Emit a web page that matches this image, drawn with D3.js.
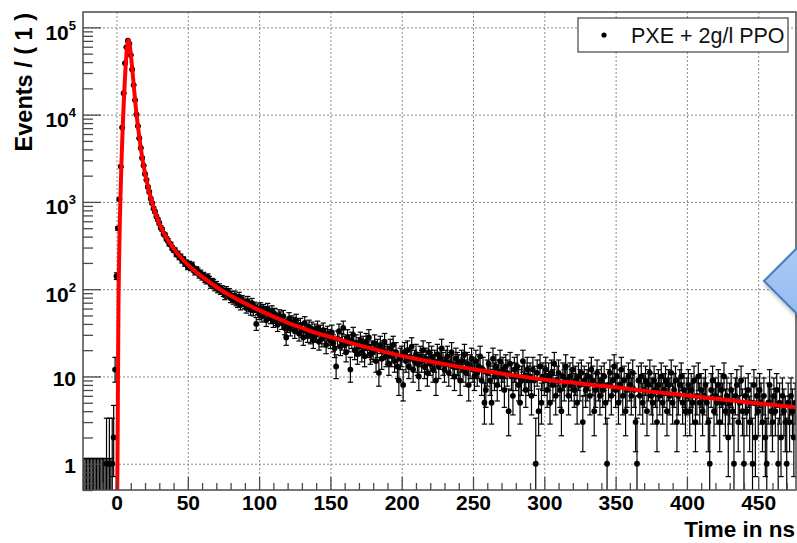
<!DOCTYPE html>
<html><head><meta charset="utf-8">
<script src="https://cdn.jsdelivr.net/npm/d3@7"></script>
<style>
body{margin:0;background:#fff;}
svg{display:block;font-family:"Liberation Sans",Arial,Helvetica,sans-serif;}
</style>
</head><body>
<svg id="c" width="797" height="543"></svg>
<script>
// ---------------- DATA ----------------
const firstBinCenter = -23;          // bins of width 1 ns
// t = -23 .. -1
const countsNeg = [0,0,0,0,0,0,0,0,0,0,0,0,0,0,0,0, 1,0,1,0,1,2,12];
// t = 0 .. 49
const countsPeak = [141,498,1071,2540,7120,17600,38900,59200,70300,65100,
  48200,32900,21800,14700,10050,7390,5380,4160,3190,2610,
  2090,1792,1486,1302,1093,968,843,771,679,628,
  571,509,482,431,418,379,362,331,326,297,
  283,279,251,256,233,236,214,219,197,201];
// t = 50 .. 99
const counts50 = [181,194,176,189,170,158,167,161,146,152,
  139,143,131,126,137,128,113,121,118,106,
  111,101,104,97,99,92,85,96,88,91,
  79,84,76,85,73,70,82,66,75,72,
  68,61,73,64,58,69,57,62,40,59];
// t = 100 .. 199
const counts100 = [52,61,49,58,55,44,60,51,47,56,
  43,52,45,39,50,47,41,49,36,28,
  38,46,35,42,40,33,44,37,31,39,
  34,28,41,33,30,37,29,35,26,33,
  30,36,25,32,27,34,29,23,31,28,
  26,32,24,21,13,27,33,22,25,36,
  23,19,28,24,12,26,30,20,24,18,
  22,26,19,23,17,25,21,28,18,20,
  19,24,15,21,11,23,16,20,25,17,
  18,14,21,17,23,15,19,13,9,16];
// t = 200 .. 299
const counts200 = [17,8,19,15,20,13,16,22,12,15,
  18,14,10,17,15,20,13,16,11,19,
  14,17,12,15,9,18,13,16,21,14,
  12,15,17,11,14,19,13,10,16,14,
  13,9,15,12,18,11,14,8,13,16,
  12,10,15,11,13,17,9,12,5,7,
  11,14,9,5,16,10,13,8,11,15,
  10,12,7,13,11,4,14,10,6,12,
  10,13,8,5,9,15,10,7,12,9,
  10,6,12,9,1,11,4,13,5,10];
// t = 300 .. 399
const counts300 = [9,12,7,10,5,11,8,14,6,9,
  11,7,4,10,8,13,9,6,10,8,
  12,7,9,5,10,8,11,3,9,7,
  8,10,6,12,9,4,7,11,8,6,
  9,7,10,5,1,8,11,6,9,13,
  7,10,5,8,12,6,9,4,7,10,
  8,6,11,7,3,1,9,6,10,5,
  7,9,4,8,11,6,5,9,7,3,
  8,6,10,5,7,9,4,8,6,11,
  5,7,9,3,6,8,10,5,7,4];
// t = 400 .. 476
const counts400 = [6,8,4,7,5,9,3,6,10,5,
  7,4,6,8,5,3,1,7,9,4,
  6,5,8,3,7,5,10,4,6,2,
  5,7,4,1,6,8,3,5,9,4,
  1,6,4,7,3,5,1,8,2,6,
  4,7,5,3,6,2,1,5,8,4,
  3,6,4,7,1,5,2,6,4,3,
  1,5,3,6,4,2,5];

// fit curve
const fitT = [0.5,0.8,1.0,1.2,1.4,1.7,2.0,2.3,2.6,3.0,3.4,4.0,4.6,5.2,5.8,6.4,7.0,7.5,8.0,8.5,9.0,
  10,11,12,13,14,15,16,17,18,19,20,22,24,26,28,30,33,36,40,45,50,55,60,65,70,80,90,100,
  110,120,130,140,150,175,200,225,250,275,300,325,350,375,400,425,450,476.5];
const fitV = [0.45,2,8,25,70,170,330,560,900,1550,2600,5000,9000,15000,24000,36000,50000,61000,69000,71000,67000,
  50000,34000,22500,14800,10200,7400,5500,4200,3250,2600,2120,1520,1120,860,690,570,445,365,292,232,191,161,139,121,106,84,69,57.5,
  48.5,41.5,36,31.5,28.3,21.7,17.2,14.3,12.1,10.5,9.2,8.3,7.5,6.7,6.05,5.45,4.9,4.45];

const xTicks = [0,50,100,150,200,250,300,350,400,450];
const yTickVals = [1,10,100,1000,10000,100000];
const yTickBase = ["1","10","10","10","10","10"];
const yTickExp  = ["","","2","3","4","5"];
const legendLabel = "PXE + 2g/l PPO";
const xTitle = "Time in ns";
const yTitle = "Events / ( 1 )";

// ---------------- LAYOUT ----------------
const counts = [].concat(countsNeg,countsPeak,counts50,counts100,counts200,counts300,counts400);
const bins = counts.map((n,i)=>({t:firstBinCenter+i, n}));
const L=83,R=796,T=12,B=490;
const x = d3.scaleLinear().domain([-23.5,476.5]).range([L,R]);
const y = d3.scaleLog().domain([0.5,1.5e5]).range([B,T]);
const svg = d3.select("#c");

svg.append("rect").attr("width",797).attr("height",543).attr("fill","#fff");

const defs = svg.append("defs");
defs.append("clipPath").attr("id","plotclip").append("rect")
  .attr("x",L).attr("y",T).attr("width",R-L).attr("height",B-T);
const grad = defs.append("linearGradient").attr("id","blueg").attr("x1",0).attr("y1",0).attr("x2",0).attr("y2",1);
grad.append("stop").attr("offset","0%").attr("stop-color","#b9d5f8");
grad.append("stop").attr("offset","100%").attr("stop-color","#86b0ec");
const filt = defs.append("filter").attr("id","shadow").attr("x","-20%").attr("y","-20%").attr("width","150%").attr("height","150%");
filt.append("feDropShadow").attr("dx",2).attr("dy",3).attr("stdDeviation",2.5).attr("flood-color","#000").attr("flood-opacity",0.35);

function styleAxis(g){ g.select(".domain").remove(); g.attr("font-family",null).attr("font-size",null); }

// grid
svg.append("g").attr("transform",`translate(0,${B})`)
  .call(d3.axisBottom(x).tickValues(xTicks).tickSize(-(B-T)).tickFormat(""))
  .call(styleAxis)
  .selectAll("line").attr("stroke","#8c8c8c").attr("stroke-width",1).attr("stroke-dasharray","2,2");
svg.append("g").attr("transform",`translate(${L},0)`)
  .call(d3.axisLeft(y).tickValues(yTickVals).tickSize(-(R-L)).tickFormat(""))
  .call(styleAxis)
  .selectAll("line").attr("stroke","#8c8c8c").attr("stroke-width",1).attr("stroke-dasharray","2,2");

// data
function poisson(n){
  if(n===0) return [0,1.1478];
  const lo = n*Math.pow(1-1/(9*n)-1/(3*Math.sqrt(n)),3);
  const hi = n+Math.sqrt(n+0.75)+1;
  return [lo,hi];
}
const yMin = y.domain()[0];
const plot = svg.append("g").attr("clip-path","url(#plotclip)");
const eb = plot.append("g").attr("stroke","#000").attr("stroke-width",1.2).attr("fill","none");
bins.forEach(d=>{
  const [lo,hi] = poisson(d.n);
  const cx = x(d.t);
  const yLo = lo>yMin ? y(lo) : B+2;
  const yHi = y(hi);
  eb.append("line").attr("x1",cx).attr("x2",cx).attr("y1",yLo).attr("y2",yHi);
  eb.append("line").attr("x1",cx-2.7).attr("x2",cx+2.7).attr("y1",yHi).attr("y2",yHi);
  if(lo>yMin) eb.append("line").attr("x1",cx-2.7).attr("x2",cx+2.7).attr("y1",yLo).attr("y2",yLo);
});
plot.append("g").selectAll("circle").data(bins.filter(d=>d.n>0)).join("circle")
  .attr("cx",d=>x(d.t)).attr("cy",d=>y(d.n)).attr("r",2.9).attr("fill","#000");

// fit
const fitPts = fitT.map((t,i)=>[t,fitV[i]]);
plot.append("path").datum(fitPts)
  .attr("d",d3.line().x(d=>x(d[0])).y(d=>y(d[1])).curve(d3.curveMonotoneX))
  .attr("fill","none").attr("stroke","#ff0000").attr("stroke-width",4).attr("stroke-linejoin","round");

// frame
svg.append("rect").attr("x",L).attr("y",T).attr("width",R-L).attr("height",B-T)
  .attr("fill","none").attr("stroke","#4a4a4a").attr("stroke-width",1.5);

// x ticks
const xMinor = d3.range(-20,477,10).filter(v=>v%50!==0);
svg.append("g").attr("transform",`translate(0,${B})`)
  .call(d3.axisBottom(x).tickValues(xMinor).tickSize(-7).tickFormat(""))
  .call(styleAxis).selectAll("line").attr("stroke","#4a4a4a").attr("stroke-width",1.3);
const gx = svg.append("g").attr("transform",`translate(0,${B})`)
  .call(d3.axisBottom(x).tickValues(xTicks).tickSize(-13).tickPadding(5).tickFormat(d=>String(d)))
  .call(styleAxis);
gx.selectAll("line").attr("stroke","#4a4a4a").attr("stroke-width",1.3);
gx.selectAll("text").attr("fill","#000").attr("font-size",21).attr("font-weight","bold");

// y ticks
const yMinor = [];
[0.1,1,10,100,1000,10000,100000].forEach(dec=>{ for(let k=2;k<=9;k++){ const v=k*dec; if(v>=0.5&&v<=1.5e5) yMinor.push(v);} });
svg.append("g").attr("transform",`translate(${L},0)`)
  .call(d3.axisLeft(y).tickValues(yMinor).tickSize(-10).tickFormat(""))
  .call(styleAxis).selectAll("line").attr("stroke","#4a4a4a").attr("stroke-width",1.3);
const gy = svg.append("g").attr("transform",`translate(${L},0)`)
  .call(d3.axisLeft(y).tickValues(yTickVals).tickSize(-18).tickPadding(7).tickFormat(""))
  .call(styleAxis);
gy.selectAll("line").attr("stroke","#4a4a4a").attr("stroke-width",1.3);
gy.selectAll("text").each(function(d,i){
  const t = d3.select(this).attr("fill","#000").attr("font-size",21).attr("font-weight","bold");
  t.text(null);
  if(yTickExp[i]){
    t.attr("dy",12);
    t.append("tspan").text(yTickBase[i]);
    t.append("tspan").attr("font-size",13).attr("dy",-10).text(yTickExp[i]);
  } else {
    t.attr("dy",9);
    t.append("tspan").text(yTickBase[i]);
  }
});

// titles
svg.append("text").attr("x",795).attr("y",537).attr("text-anchor","end")
  .attr("font-size",22.5).attr("font-weight","bold").attr("fill","#000").text(xTitle);
svg.append("text").attr("transform","translate(32,13) rotate(-90)").attr("text-anchor","end")
  .attr("font-size",23.5).attr("font-weight","bold").attr("fill","#000").text(yTitle);

// legend
svg.append("rect").attr("x",578).attr("y",18).attr("width",210).attr("height",34)
  .attr("fill","#fff").attr("stroke","#444").attr("stroke-width",1.2);
svg.append("circle").attr("cx",604).attr("cy",35).attr("r",2.6).attr("fill","#000");
svg.append("text").attr("x",631).attr("y",42.5).attr("font-size",21.5).attr("fill","#111").text(legendLabel);

// callout shape (partially outside the page)
svg.append("polygon").attr("points","764,281 842,203 920,281 842,359")
  .attr("fill","url(#blueg)").attr("stroke","#4a7dbd").attr("stroke-width",2).attr("filter","url(#shadow)");
</script>
</body></html>
